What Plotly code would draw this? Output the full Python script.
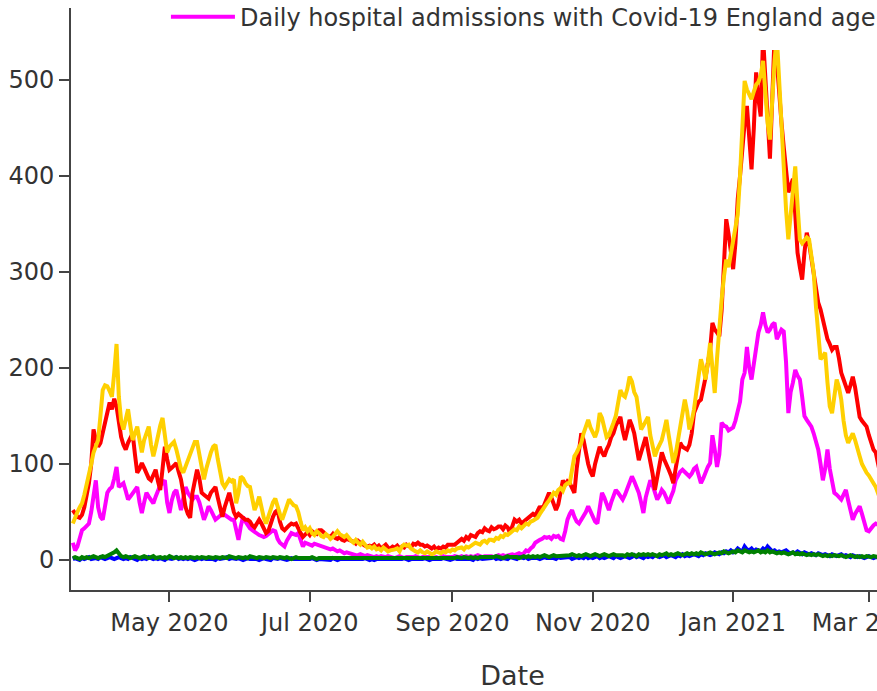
import pandas as pd
import plotly.graph_objects as go

START_DATE = "2020-03-20"

AGE_18_64 = [
    18, 10, 14, 22, 31, 33, 35, 38, 50, 70,
    83, 55, 45, 42, 55, 70, 74, 76, 85, 97,
    76, 78, 80, 72, 63, 66, 70, 74, 76, 60,
    49, 60, 70, 66, 62, 59, 66, 73, 78, 80,
    83, 60, 49, 62, 70, 73, 60, 52, 64, 76,
    70, 66, 63, 66, 66, 60, 50, 42, 48, 56,
    52, 48, 42, 44, 46, 48, 47, 45, 43, 42,
    42, 30, 21, 35, 45, 40, 36, 33, 31, 29,
    27, 26, 25, 24, 25, 27, 29, 31, 30, 22,
    18, 16, 14, 20, 24, 28, 27, 26, 28, 20,
    14, 18, 17, 16, 15, 17, 16, 15, 14, 14,
    13, 12, 11, 12, 10, 9, 10, 8, 7, 8,
    7, 6, 6, 5, 5, 6, 5, 4, 5, 4,
    4, 3, 4, 3, 4, 3, 3, 4, 3, 3,
    2, 3, 4, 3, 2, 3, 3, 2, 3, 4,
    3, 2, 3, 3, 4, 3, 2, 3, 3, 2,
    3, 4, 3, 3, 2, 3, 4, 3, 3, 4,
    3, 4, 3, 4, 3, 4, 5, 4, 3, 4,
    4, 5, 4, 3, 4, 5, 4, 5, 4, 5,
    5, 6, 5, 6, 7, 6, 7, 10, 9, 12,
    14, 18, 20, 21, 22, 24, 23, 24, 22, 25,
    24, 25, 22, 21, 30, 42, 48, 52, 45, 40,
    38, 42, 45, 50, 56, 50, 45, 40, 38, 55,
    70, 65, 58, 52, 60, 68, 73, 70, 66, 63,
    68, 75, 80, 87, 82, 76, 70, 60, 49, 65,
    75, 83, 78, 70, 63, 67, 73, 70, 65, 59,
    66, 72, 83, 88, 92, 94, 92, 90, 87, 90,
    95, 97, 90, 80, 85, 92, 97, 101, 130, 115,
    97, 110, 143, 140, 139, 135, 136, 138, 145, 157,
    165, 188, 195, 222, 200, 188, 205, 220, 237, 245,
    258, 245, 237, 240, 245, 247, 230, 235, 240, 238,
    206, 153, 175, 185, 198, 192, 188, 170, 150, 146,
    143, 139, 132, 125, 115, 100, 83, 95, 115, 95,
    80, 70, 68, 66, 63, 68, 73, 62, 50, 42,
    48, 52, 56, 48, 40, 31, 30, 34, 36, 38,
    37, 35, 34, 33,
]

AGE_65_84 = [
    52, 48, 45, 44, 47, 55, 68, 80, 100, 136,
    125, 118, 122, 132, 140, 150, 164, 157, 168, 160,
    140, 128, 120, 115, 122, 128, 132, 110, 91, 95,
    101, 96, 90, 85, 83, 88, 94, 82, 73, 95,
    118, 105, 94, 96, 99, 101, 92, 84, 70, 55,
    48, 44, 70, 85, 94, 85, 70, 68, 66, 64,
    70, 74, 76, 65, 55, 45, 55, 62, 70, 60,
    50, 45, 48, 46, 44, 42, 42, 40, 36, 34,
    38, 42, 38, 32, 28, 30, 38, 45, 50, 52,
    40, 33, 31, 34, 36, 38, 37, 38, 32, 28,
    24, 27, 29, 26, 30, 28, 27, 31, 31, 29,
    26, 25, 24, 27, 23, 22, 24, 21, 20, 22,
    21, 21, 19, 17, 20, 18, 16, 15, 14, 15,
    14, 16, 13, 15, 12, 14, 16, 13, 12, 14,
    13, 15, 12, 14, 13, 16, 15, 13, 17, 16,
    18, 16, 16, 14, 15, 13, 12, 14, 11, 13,
    12, 14, 13, 16, 16, 15, 16, 18, 20, 22,
    20, 24, 22, 26, 25, 24, 28, 30, 29, 33,
    31, 30, 34, 32, 33, 35, 35, 32, 36, 34,
    28, 36, 42, 40, 42, 38, 40, 42, 44, 45,
    48, 46, 50, 56, 52, 58, 62, 70, 65, 58,
    52, 58, 72, 83, 78, 82, 80, 75, 70, 95,
    118, 132, 125, 112, 100, 92, 87, 100, 110, 118,
    112, 108, 115, 120, 128, 132, 140, 145, 149, 135,
    125, 135, 146, 140, 132, 118, 104, 112, 120, 128,
    115, 104, 90, 73, 85, 100, 112, 105, 98, 94,
    88, 80, 95, 110, 122, 118, 116, 115, 120, 132,
    153, 160, 165, 167, 177, 190, 205, 219, 247, 240,
    237, 233, 260, 300, 355, 340, 320, 303, 330, 376,
    400, 430, 455, 473, 440, 407, 450, 508, 480, 462,
    545, 500, 460, 418, 480, 545, 520, 480, 456, 430,
    400, 383, 390, 397, 360, 320, 305, 292, 320, 341,
    330, 316, 300, 285, 268, 261, 250, 240, 230, 225,
    219, 222, 222, 210, 195, 188, 180, 174, 182, 191,
    180, 165, 149, 145, 142, 139, 130, 122, 115, 112,
    100, 87, 75, 66,
]

AGE_85_PLUS = [
    38, 45, 50, 55, 59, 68, 78, 87, 100, 112,
    118, 125, 150, 177, 182, 181, 176, 170, 195, 225,
    170, 145, 136, 148, 157, 140, 125, 132, 139, 125,
    112, 125, 133, 139, 120, 108, 118, 130, 140, 148,
    128, 112, 118, 120, 123, 115, 105, 95, 91, 98,
    105, 112, 118, 123, 123, 110, 95, 84, 95, 105,
    112, 118, 120, 105, 90, 80, 76, 80, 84, 82,
    84, 59, 70, 87, 85, 80, 77, 76, 62, 52,
    58, 66, 55, 44, 38, 45, 55, 60, 64, 55,
    48, 42, 50, 58, 63, 60, 57, 56, 50, 40,
    31, 34, 30, 33, 28, 26, 30, 28, 25, 24,
    27, 25, 22, 24, 28, 30, 27, 25, 24, 26,
    22, 20, 18, 21, 18, 16, 19, 15, 13, 14,
    12, 14, 11, 12, 10, 13, 11, 9, 10, 10,
    11, 12, 9, 14, 16, 15, 16, 12, 10, 9,
    8, 10, 8, 7, 9, 8, 6, 7, 9, 8,
    7, 9, 8, 10, 9, 11, 10, 12, 12, 13,
    11, 14, 13, 15, 16, 18, 17, 16, 19, 20,
    18, 21, 21, 20, 23, 22, 25, 24, 27, 26,
    28, 30, 32, 31, 35, 33, 36, 38, 37, 40,
    41, 42, 44, 48, 52, 57, 59, 62, 66, 70,
    68, 73, 75, 72, 78, 80, 80, 92, 108, 112,
    118, 122, 132, 140, 146, 138, 132, 128, 135, 153,
    148, 138, 128, 130, 138, 143, 150, 165, 177, 172,
    170, 178, 191, 186, 175, 170, 155, 136, 140, 145,
    149, 130, 118, 108, 115, 120, 125, 135, 146, 130,
    112, 101, 110, 125, 136, 150, 167, 155, 136, 145,
    157, 175, 195, 209, 200, 188, 205, 226, 200, 174,
    210, 245, 271, 295, 313, 305, 318, 330, 348, 360,
    400, 450, 499, 490, 485, 480, 488, 495, 498, 505,
    520, 480, 455, 438, 480, 520, 545, 500, 446, 410,
    365, 334, 360, 395, 410, 370, 334, 330, 334, 336,
    334, 315, 300, 264, 230, 209, 212, 216, 185, 160,
    153, 170, 188, 180, 167, 145, 130, 122, 126, 132,
    125, 115, 108, 100, 95, 91, 88, 83, 80, 76,
    70, 63, 52, 45,
]

AGE_0_5 = [
    1, 2, 1, 0, 2, 1, 2, 3, 1, 2,
    2, 1, 3, 2, 1, 2, 3, 2, 1, 2,
    3, 2, 1, 2, 1, 3, 2, 1, 0, 2,
    1, 2, 1, 3, 2, 1, 2, 1, 2, 1,
    0, 2, 1, 1, 2, 3, 1, 2, 1, 2,
    1, 2, 1, 0, 1, 2, 1, 2, 1, 1,
    2, 1, 0, 2, 1, 1, 2, 3, 1, 2,
    1, 1, 2, 1, 0, 1, 2, 1, 1, 2,
    1, 0, 1, 2, 1, 1, 0, 2, 1, 1,
    2, 1, 1, 0, 1, 2, 1, 1, 0, 1,
    1, 0, 1, 1, 2, 1, 0, 1, 1, 0,
    1, 1, 0, 2, 1, 0, 1, 1, 0, 1,
    0, 1, 1, 0, 1, 0, 1, 2, 1, 0,
    1, 0, 1, 1, 0, 1, 0, 1, 1, 0,
    1, 1, 0, 1, 2, 1, 0, 1, 1, 1,
    0, 1, 1, 2, 1, 0, 1, 1, 0, 1,
    1, 2, 1, 1, 0, 1, 2, 1, 1, 2,
    1, 1, 2, 1, 0, 2, 1, 2, 1, 1,
    2, 1, 2, 3, 1, 2, 1, 2, 2, 1,
    3, 2, 2, 1, 3, 2, 2, 3, 1, 2,
    2, 3, 2, 1, 2, 3, 2, 2, 3, 2,
    1, 3, 2, 2, 3, 2, 3, 1, 2, 3,
    2, 3, 2, 4, 2, 3, 2, 3, 4, 2,
    3, 2, 3, 4, 3, 2, 4, 3, 2, 3,
    4, 3, 2, 3, 5, 3, 4, 3, 2, 4,
    3, 4, 3, 5, 4, 3, 4, 5, 3, 4,
    5, 4, 3, 5, 4, 6, 4, 5, 4, 5,
    6, 5, 4, 6, 5, 7, 6, 5, 6, 8,
    7, 6, 8, 7, 9, 8, 10, 8, 9, 12,
    10, 9, 14, 11, 10, 12, 9, 11, 10, 9,
    12, 10, 14, 11, 9, 10, 8, 9, 8, 9,
    10, 8, 7, 8, 7, 9, 7, 6, 8, 7,
    6, 7, 6, 5, 7, 6, 5, 6, 5, 4,
    6, 5, 4, 5, 6, 4, 5, 4, 3, 5,
    4, 3, 4, 3, 2, 3, 4, 3, 2, 3,
    3, 2, 3, 2,
]

AGE_6_17 = [
    2, 3, 2, 1, 3, 2, 3, 2, 3, 4,
    3, 2, 3, 4, 3, 4, 5, 6, 8, 10,
    6, 4, 3, 4, 3, 2, 3, 4, 3, 2,
    3, 4, 3, 2, 3, 4, 2, 3, 3, 2,
    3, 2, 4, 3, 2, 3, 2, 3, 2, 3,
    2, 3, 2, 2, 3, 2, 3, 2, 2, 3,
    2, 2, 3, 2, 2, 3, 2, 2, 4, 3,
    2, 2, 3, 2, 2, 3, 2, 4, 3, 2,
    2, 3, 2, 2, 3, 2, 2, 3, 2, 2,
    3, 2, 2, 3, 2, 1, 2, 3, 2, 2,
    2, 1, 2, 2, 3, 2, 1, 2, 2, 1,
    2, 1, 2, 1, 1, 2, 1, 2, 1, 1,
    2, 1, 1, 2, 1, 1, 2, 1, 1, 2,
    1, 1, 2, 1, 1, 2, 1, 1, 1, 2,
    1, 1, 2, 1, 1, 2, 1, 1, 2, 1,
    1, 2, 1, 1, 2, 1, 1, 2, 1, 2,
    2, 1, 2, 2, 1, 2, 2, 3, 2, 2,
    3, 2, 2, 3, 2, 3, 2, 3, 3, 2,
    3, 3, 2, 3, 4, 3, 3, 2, 3, 4,
    3, 3, 4, 3, 2, 3, 4, 3, 4, 3,
    4, 3, 4, 3, 4, 5, 4, 3, 4, 5,
    4, 4, 5, 4, 5, 4, 5, 6, 5, 4,
    5, 4, 5, 6, 5, 4, 5, 6, 5, 4,
    5, 6, 5, 4, 5, 6, 5, 5, 6, 5,
    4, 6, 5, 6, 5, 4, 6, 5, 6, 5,
    6, 5, 6, 5, 4, 6, 5, 6, 7, 5,
    6, 5, 6, 7, 6, 5, 6, 7, 6, 7,
    6, 7, 6, 8, 7, 6, 7, 8, 7, 6,
    7, 8, 7, 9, 8, 7, 8, 9, 8, 10,
    9, 8, 10, 9, 8, 9, 8, 9, 10, 8,
    9, 8, 10, 8, 9, 8, 7, 8, 7, 8,
    7, 6, 7, 8, 6, 7, 6, 7, 6, 5,
    6, 5, 6, 5, 6, 5, 4, 5, 4, 5,
    4, 5, 4, 4, 5, 4, 3, 4, 5, 4,
    3, 4, 3, 4, 3, 4, 3, 3, 4, 3,
    3, 4, 3, 3,
]

SERIES = [
    ("Daily hospital admissions with Covid-19 England age 18_to_64", AGE_18_64, "#ff00ff", True),
    ("Daily hospital admissions with Covid-19 England age 65_to_84", AGE_65_84, "#ff0000", False),
    ("Daily hospital admissions with Covid-19 England age 85+", AGE_85_PLUS, "#ffd000", False),
    ("Daily hospital admissions with Covid-19 England age 0_to_5", AGE_0_5, "#0000ff", False),
    ("Daily hospital admissions with Covid-19 England age 6_to_17", AGE_6_17, "#008000", False),
]

TEXT_COLOR = "#333333"
AXIS_COLOR = "#444444"
FONT = "DejaVu Sans"

# page has no body margin and no scrollbars: the figure is wider than the window
NO_SCROLL = (
    "document.body.style.margin='0';"
    "document.body.style.overflow='hidden';"
    "document.documentElement.style.overflow='hidden';"
)

fig = go.Figure()

for name, values, color, in_legend in SERIES:
    fig.add_trace(
        go.Scatter(
            x=pd.date_range(START_DATE, periods=len(values), freq="D"),
            y=values,
            name=name,
            mode="lines",
            line=dict(color=color, width=4),
            showlegend=in_legend,
        )
    )

fig.update_layout(
    width=1010,
    height=691,
    margin=dict(l=71, r=56, t=8, b=101, autoexpand=False),
    paper_bgcolor="white",
    plot_bgcolor="white",
    font=dict(family=FONT, size=24, color=TEXT_COLOR),
    legend=dict(
        orientation="h",
        x=0.0962,
        xanchor="left",
        y=1.0402,
        yanchor="top",
        bgcolor="white",
        bordercolor="white",
        borderwidth=10,
        itemwidth=64,
        font=dict(size=24, color=TEXT_COLOR),
    ),
)

fig.update_xaxes(
    range=["2020-03-19 05:00", "2021-04-07"],
    tick0="2020-01-01",
    dtick="M2",
    tickformat="%b %Y",
    showline=True,
    linecolor=AXIS_COLOR,
    linewidth=2,
    ticks="outside",
    ticklen=10,
    tickwidth=2,
    tickcolor=AXIS_COLOR,
    showgrid=False,
    zeroline=False,
    title=dict(text="Date", standoff=30, font=dict(size=27, color=TEXT_COLOR)),
)

fig.update_yaxes(
    range=[-31.25, 575],
    tick0=0,
    dtick=100,
    showline=True,
    linecolor=AXIS_COLOR,
    linewidth=2,
    ticks="outside",
    ticklen=10,
    tickwidth=2,
    tickcolor=AXIS_COLOR,
    showgrid=False,
    zeroline=False,
)

fig.write_html(
    "out.html",
    config={"displayModeBar": False},
    post_script=NO_SCROLL,
)
